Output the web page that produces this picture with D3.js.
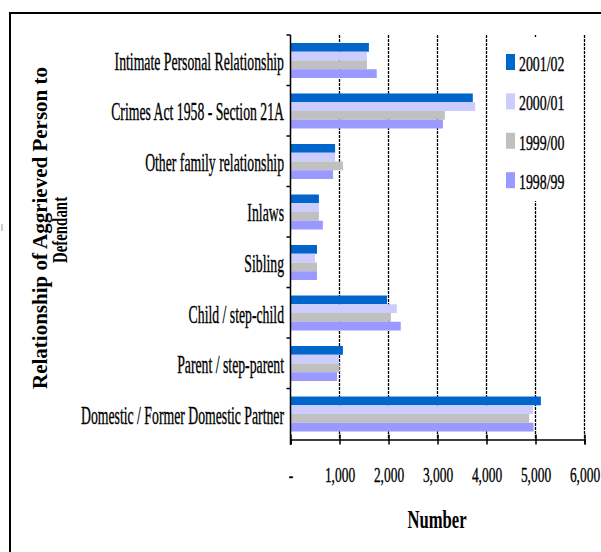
<!DOCTYPE html>
<meta charset="utf-8">
<style>
body {
  margin: 0;
  background: #fff;
}
svg text {
  font-family: "Liberation Serif", "Times New Roman", serif;
  fill: #000;
}
.squeezed {
  stroke: #000;
  stroke-width: 0.35px;
}
.grid line {
  stroke: #000;
  stroke-width: 1.3px;
  stroke-dasharray: 3,1;
}
.axis path, .axis line {
  stroke: #000;
  stroke-width: 1.5px;
}
</style>
<body>
<script src="https://cdn.jsdelivr.net/npm/d3@7"></script>
<script>
var width = 601,
    height = 552;

var categories = [
  "Intimate Personal Relationship",
  "Crimes Act 1958 - Section 21A",
  "Other family relationship",
  "Inlaws",
  "Sibling",
  "Child / step-child",
  "Parent / step-parent",
  "Domestic / Former Domestic Partner"
];
var seriesNames = ["2001/02", "2000/01", "1999/00", "1998/99"];
var seriesColors = ["#0066cc", "#ccccff", "#c0c0c0", "#9999ff"];
var v2001 = [1600, 3720, 910, 580, 540, 1970, 1070, 5110];
var v2000 = [1560, 3770, 910, 580, 500, 2170, 990, 4950];
var v1999 = [1560, 3150, 1070, 580, 540, 2050, 1000, 4870];
var v1998 = [1760, 3110, 870, 660, 540, 2250, 950, 4960];
var xTicks = [0, 1000, 2000, 3000, 4000, 5000, 6000];

var series = [v2001, v2000, v1999, v1998];

var svg = d3.select("body").append("svg")
    .attr("width", width)
    .attr("height", height);

// outer frame, runs off the right and bottom edges
svg.append("rect")
    .attr("x", 10).attr("y", 13)
    .attr("width", 620).attr("height", 560)
    .attr("fill", "none")
    .attr("stroke", "#000")
    .attr("stroke-width", 2);

svg.append("line")
    .attr("x1", 2).attr("x2", 2).attr("y1", 224).attr("y2", 231)
    .attr("stroke", "#999");

var x = d3.scaleLinear().domain([0, 6000]).range([290.5, 584.5]);
var y = d3.scaleBand().domain(categories).range([35, 439.5])
    .paddingInner(0.307).paddingOuter(0.158);
var yInner = d3.scaleBand().domain(seriesNames).range([0, y.bandwidth()]);

// grid
svg.append("g").attr("class", "grid")
  .selectAll("line")
    .data(xTicks.slice(1))
  .enter().append("line")
    .attr("x1", function(d) { return x(d); })
    .attr("x2", function(d) { return x(d); })
    .attr("y1", 35)
    .attr("y2", 439.5);

// bars
var groups = svg.append("g").selectAll("g")
    .data(categories)
  .enter().append("g")
    .attr("transform", function(d) { return "translate(0," + y(d) + ")"; });

groups.selectAll("rect")
    .data(function(d, i) {
      return seriesNames.map(function(s, j) { return {s: s, j: j, v: series[j][i]}; });
    })
  .enter().append("rect")
    .attr("x", x(0))
    .attr("y", function(d) { return yInner(d.s); })
    .attr("width", function(d) { return x(d.v) - x(0); })
    .attr("height", yInner.bandwidth())
    .attr("fill", function(d) { return seriesColors[d.j]; });

// x axis
var xAxis = svg.append("g").attr("class", "axis")
    .attr("transform", "translate(0,439.5)")
    .call(d3.axisBottom(x).tickValues(xTicks).tickSizeOuter(0).tickSize(5)
      .tickFormat(function(d) { return d === 0 ? "-" : d3.format(",")(d); }));
xAxis.selectAll(".tick line").attr("y1", -5);
xAxis.selectAll(".tick text")
    .attr("class", "squeezed")
    .attr("y", 0).attr("dy", 0)
    .attr("transform", "translate(0,42) scale(0.64,1)")
    .attr("font-family", null)
    .attr("font-size", null)
    .style("font-size", "21px");

// y axis with ticks between categories
var yAxis = svg.append("g").attr("class", "axis");
yAxis.append("line")
    .attr("x1", x(0)).attr("x2", x(0))
    .attr("y1", y.range()[0]).attr("y2", 445);
yAxis.selectAll(".cat-tick")
    .data(d3.range(categories.length))
  .enter().append("line")
    .attr("x1", x(0) - 4).attr("x2", x(0))
    .attr("y1", function(i) { return y.range()[0] + i * y.step(); })
    .attr("y2", function(i) { return y.range()[0] + i * y.step(); });

svg.append("g").selectAll("text")
    .data(categories)
  .enter().append("text")
    .attr("class", "squeezed")
    .attr("transform", function(d) {
      return "translate(284," + (y(d) + y.bandwidth() / 2 + 9.5) + ") scale(0.55,1)";
    })
    .attr("text-anchor", "end")
    .style("font-size", "25px")
    .text(function(d) { return d; });

// legend
var legend = svg.append("g");
legend.append("rect")
    .attr("x", 490).attr("y", 37)
    .attr("width", 90).attr("height", 164)
    .attr("fill", "#fff");
var item = legend.selectAll(".item")
    .data(seriesNames)
  .enter().append("g")
    .attr("transform", function(d, i) { return "translate(506," + (54 + i * 39.4) + ")"; });
item.append("rect")
    .attr("width", 9).attr("height", 16)
    .attr("fill", function(d, i) { return seriesColors[i]; });
item.append("text")
    .attr("class", "squeezed")
    .attr("transform", "translate(13,17) scale(0.66,1)")
    .style("font-size", "21px")
    .text(function(d) { return d; });

// axis titles
svg.append("text")
    .attr("transform", "translate(437,528) scale(0.64,1)")
    .attr("text-anchor", "middle")
    .style("font-size", "26px")
    .style("font-weight", "bold")
    .text("Number");

svg.append("text")
    .attr("transform", "translate(46.5,228) rotate(-90)")
    .attr("text-anchor", "middle")
    .style("font-size", "21px")
    .style("font-weight", "bold")
    .text("Relationship of Aggrieved Person to");
svg.append("text")
    .attr("transform", "translate(67,230) rotate(-90) scale(0.71,1)")
    .attr("text-anchor", "middle")
    .style("font-size", "21px")
    .style("font-weight", "bold")
    .text("Defendant");
</script>
